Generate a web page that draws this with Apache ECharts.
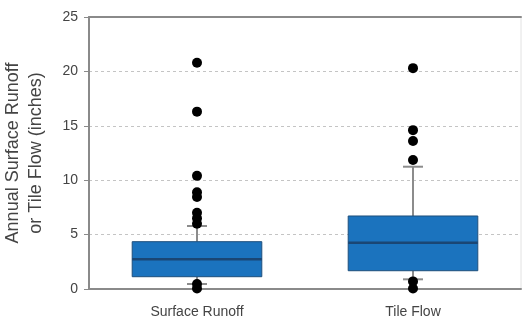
<!DOCTYPE html>
<html>
<head>
<meta charset="utf-8">
<script src="https://cdn.jsdelivr.net/npm/echarts@6/dist/echarts.min.js"></script>
<style>html,body{margin:0;padding:0;background:#fff}#c{width:522px;height:320px}</style>
</head>
<body>
<div id="c"></div>
<script>
var categories = ['Surface Runoff', 'Tile Flow'];
// [lower whisker, Q1, median, Q3, upper whisker]
var surfaceBox = [0.46, 1.13, 2.73, 4.35, 5.79];
var tileBox = [0.89, 1.68, 4.26, 6.71, 11.24];
var surfaceOutliers = [20.8, 16.3, 10.4, 8.9, 8.45, 7.0, 6.5, 6.0, 0.45, 0.05];
var tileOutliers = [20.3, 14.6, 13.6, 11.85, 0.7, 0.05];
var yTicks = [0, 5, 10, 15, 20, 25];

var boxData = [[0].concat(surfaceBox), [1].concat(tileBox)];
var outlierData = [];
surfaceOutliers.forEach(function (v) { outlierData.push([categories[0], v]); });
tileOutliers.forEach(function (v) { outlierData.push([categories[1], v]); });

var FONT = 'Liberation Sans, Arial, sans-serif';
var chart = echarts.init(document.getElementById('c'), null, {renderer: 'canvas'});

function renderBox(params, api) {
  var ci = api.value(0);
  var band = api.size([1, 0])[0];
  var bw = band * 0.6;
  var cw = 20;
  var pMin = api.coord([ci, api.value(1)]);
  var pQ1 = api.coord([ci, api.value(2)]);
  var pMed = api.coord([ci, api.value(3)]);
  var pQ3 = api.coord([ci, api.value(4)]);
  var pMax = api.coord([ci, api.value(5)]);
  var x = pMed[0];
  var grey = {stroke: '#8c8c8c', lineWidth: 2};
  return {
    type: 'group',
    children: [
      {type: 'line', shape: {x1: x, y1: pQ3[1], x2: x, y2: pMax[1]}, style: grey},
      {type: 'line', shape: {x1: x - cw / 2, y1: pMax[1], x2: x + cw / 2, y2: pMax[1]}, style: grey},
      {type: 'line', shape: {x1: x, y1: pQ1[1], x2: x, y2: pMin[1]}, style: grey},
      {type: 'line', shape: {x1: x - cw / 2, y1: pMin[1], x2: x + cw / 2, y2: pMin[1]}, style: grey},
      {type: 'rect', shape: {x: x - bw / 2, y: pQ3[1], width: bw, height: pQ1[1] - pQ3[1]},
        style: {fill: '#1b73be', stroke: '#1e4f7c', lineWidth: 1}},
      {type: 'line', shape: {x1: x - bw / 2, y1: pMed[1], x2: x + bw / 2, y2: pMed[1]},
        style: {stroke: '#1a4674', lineWidth: 2.5}}
    ]
  };
}

chart.setOption({
  animation: false,
  backgroundColor: '#fff',
  grid: {left: 89, right: 1, top: 17, bottom: 31, containLabel: false, outerBoundsMode: 'none',
    show: true, borderColor: '#e2e2e2', borderWidth: 1},
  xAxis: [{
    type: 'category',
    data: categories,
    axisLine: {lineStyle: {color: '#8a8a8a', width: 2}},
    axisTick: {show: false},
    axisLabel: {color: '#444', fontSize: 14, fontFamily: FONT, margin: 16},
    splitLine: {show: false}
  }, {
    type: 'category',
    data: categories,
    position: 'top',
    axisLine: {lineStyle: {color: '#8a8a8a', width: 2}},
    axisTick: {show: false},
    axisLabel: {show: false}
  }],
  yAxis: {
    type: 'value',
    min: 0, max: 25, interval: 5,
    name: 'Annual Surface Runoff\nor Tile Flow (inches)',
    nameLocation: 'middle',
    nameGap: 41,
    nameRotate: 90,
    nameTextStyle: {color: '#444', fontSize: 18, fontFamily: FONT, lineHeight: 23},
    axisLine: {show: true, lineStyle: {color: '#8a8a8a', width: 2}},
    axisTick: {show: true, length: 5, lineStyle: {color: '#8a8a8a', width: 1}},
    axisLabel: {color: '#444', fontSize: 14, fontFamily: FONT, margin: 11},
    splitLine: {show: true, lineStyle: {color: '#c4c4c4', type: [3, 3], width: 1}}
  },
  series: [{
    type: 'custom',
    renderItem: renderBox,
    data: boxData,
    encode: {x: 0, y: [1, 2, 3, 4, 5]},
    z: 2
  }, {
    type: 'scatter',
    data: outlierData,
    symbol: 'circle',
    symbolSize: 10,
    itemStyle: {color: '#000', opacity: 1},
    z: 5
  }]
});
</script>
</body>
</html>
